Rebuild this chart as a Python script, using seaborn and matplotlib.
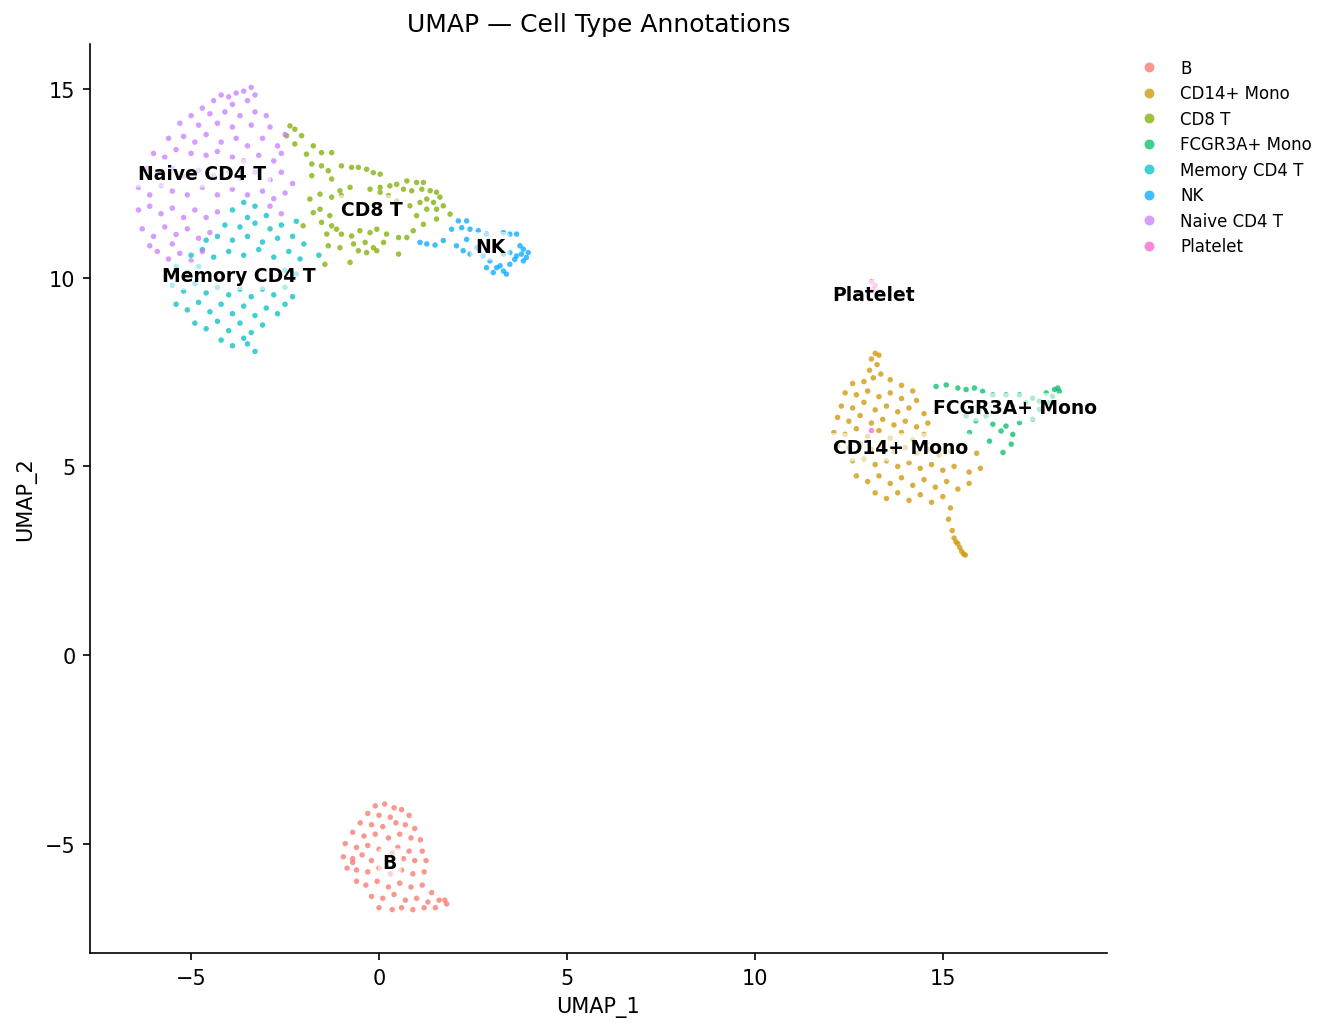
import numpy as np
import pandas as pd
import seaborn as sns
import matplotlib
matplotlib.use("Agg")
import matplotlib.pyplot as plt

# cell types (legend order) and colours
cell_types = ["B", "CD14+ Mono", "CD8 T", "FCGR3A+ Mono", "Memory CD4 T", "NK", "Naive CD4 T", "Platelet"]
colors = ["#F8766D", "#CD9600", "#7CAE00", "#00BE67", "#00BFC4", "#00A9FF", "#C77CFF", "#FF61CC"]

# UMAP coordinates, one list of (x, y) per cell type
naive_cd4 = [
    (-3.4, 15.05), (-3.6, 14.95), (-3.3, 14.85), (-3.8, 14.9), (-4.0, 14.8), (-4.2, 14.85), (-4.4, 14.7),
    (-3.5, 14.7), (-3.9, 14.6), (-4.7, 14.5), (-5.0, 14.3), (-4.5, 14.35), (-4.1, 14.4), (-3.7, 14.3),
    (-3.3, 14.4), (-3.0, 14.3), (-2.9, 14.0), (-5.3, 14.1), (-4.8, 14.05), (-4.3, 14.1), (-3.9, 14.0),
    (-3.4, 14.05), (-5.6, 13.7), (-5.2, 13.75), (-4.9, 13.6), (-4.6, 13.8), (-4.2, 13.6), (-3.8, 13.7),
    (-3.5, 13.5), (-3.1, 13.7), (-2.7, 13.5), (-2.5, 13.8), (-6.0, 13.3), (-5.7, 13.2), (-5.4, 13.4),
    (-5.0, 13.3), (-4.6, 13.25), (-4.3, 13.35), (-3.9, 13.2), (-3.6, 13.1), (-3.2, 13.25), (-2.8, 13.1),
    (-2.6, 13.3), (-6.2, 12.9), (-5.9, 12.8), (-5.5, 12.9), (-5.2, 12.7), (-4.8, 12.85), (-4.4, 12.7),
    (-4.0, 12.8), (-3.7, 12.65), (-3.3, 12.8), (-2.9, 12.6), (-2.6, 12.8), (-2.3, 12.5), (-6.4, 12.4),
    (-6.1, 12.2), (-5.8, 12.45), (-5.5, 12.3), (-5.1, 12.2), (-4.7, 12.4), (-4.3, 12.2), (-3.9, 12.35),
    (-3.5, 12.2), (-3.1, 12.3), (-2.8, 12.1), (-2.5, 12.25), (-6.4, 11.8), (-6.1, 11.9), (-5.8, 11.7),
    (-5.5, 11.85), (-5.2, 11.6), (-4.9, 11.8), (-4.6, 11.6), (-4.3, 11.75), (-2.6, 11.7), (-2.9, 11.9),
    (-6.3, 11.3), (-6.0, 11.1), (-5.7, 11.35), (-5.4, 11.15), (-5.1, 11.3), (-4.8, 11.05), (-4.5, 11.2),
    (-5.9, 10.7), (-5.6, 10.5), (-5.3, 10.65), (-5.0, 10.45), (-4.7, 10.7), (-5.5, 10.9), (-6.1, 10.85),
]
memory_cd4 = [
    (-3.6, 12.0), (-3.3, 11.9), (-3.9, 11.8), (-3.5, 11.6), (-3.0, 11.65), (-4.1, 11.4), (-3.7, 11.35),
    (-3.3, 11.45), (-2.9, 11.3), (-2.6, 11.4), (-4.6, 11.0), (-4.3, 11.1), (-3.9, 11.0), (-3.5, 11.1),
    (-3.1, 10.95), (-2.7, 11.05), (-2.3, 11.1), (-5.0, 10.6), (-4.7, 10.75), (-4.4, 10.55), (-4.0, 10.7),
    (-3.6, 10.6), (-3.2, 10.75), (-2.8, 10.55), (-2.4, 10.7), (-2.1, 10.5), (-5.4, 10.3), (-5.1, 10.15),
    (-4.8, 10.3), (-2.5, 10.2), (-2.2, 10.1), (-5.5, 9.8), (-5.2, 9.65), (-4.9, 9.85), (-4.6, 9.6),
    (-4.3, 9.75), (-4.0, 9.55), (-3.7, 9.7), (-3.4, 9.5), (-3.1, 9.7), (-2.8, 9.55), (-2.5, 9.75),
    (-2.3, 9.5), (-5.4, 9.3), (-5.1, 9.15), (-4.8, 9.35), (-4.5, 9.1), (-4.2, 9.3), (-3.9, 9.05),
    (-3.6, 9.25), (-3.3, 9.0), (-3.0, 9.2), (-2.7, 9.05), (-2.5, 9.3), (-4.9, 8.8), (-4.6, 8.65),
    (-4.3, 8.85), (-4.0, 8.6), (-3.7, 8.8), (-3.4, 8.55), (-3.1, 8.75), (-4.2, 8.35), (-3.9, 8.2),
    (-3.6, 8.4), (-3.3, 8.05), (-3.5, 8.25), (-2.2, 11.5), (-2.0, 10.9), (-1.6, 10.6),
]
cd8_t = [
    (-2.37, 14.03), (-2.24, 13.94), (-2.46, 13.77), (-2.06, 13.77), (-2.24, 13.55), (-1.75, 13.5),
    (-1.93, 13.28), (-1.53, 13.32), (-1.26, 13.32), (-1.79, 13.02), (-1.53, 12.97), (-1.35, 12.84),
    (-1.0, 12.97), (-0.73, 12.93), (-0.55, 12.93), (-0.33, 12.88), (-0.15, 12.79), (0.03, 12.75),
    (-1.79, 12.71), (-1.26, 12.62), (-1.04, 12.31), (-0.77, 12.4), (-0.24, 12.35), (0.03, 12.4),
    (0.29, 12.44), (0.47, 12.48), (0.74, 12.57), (1.0, 12.53), (1.18, 12.53), (0.65, 12.35),
    (0.87, 12.31), (1.14, 12.35), (1.36, 12.31), (1.53, 12.27), (1.27, 12.09), (1.45, 12.0),
    (1.62, 12.14), (1.71, 11.91), (1.09, 12.0), (1.27, 11.82), (1.53, 11.82), (1.89, 11.69),
    (1.53, 11.56), (1.0, 11.65), (0.82, 11.91), (0.47, 12.04), (0.25, 12.18), (0.03, 12.27),
    (-1.84, 12.09), (-1.57, 12.22), (-1.26, 12.14), (-1.0, 12.18), (-1.57, 11.82), (-1.31, 11.65),
    (-1.75, 11.73), (-2.02, 11.38), (-1.53, 11.47), (-1.26, 11.38), (-1.13, 11.29), (-1.39, 11.16),
    (-1.0, 11.16), (-0.73, 11.11), (-0.51, 11.25), (-0.24, 11.2), (-0.06, 11.29), (0.2, 11.16),
    (0.52, 11.07), (0.74, 11.07), (-0.68, 10.9), (-0.37, 10.94), (-0.15, 10.8), (0.12, 10.94),
    (-1.35, 10.85), (-1.04, 10.8), (-0.55, 10.72), (-0.33, 10.67), (-0.06, 10.72), (0.52, 10.63),
    (-0.77, 10.41), (-1.44, 10.36), (1.18, 11.42), (0.91, 11.25),
]
nk = [
    (1.09, 10.94), (1.27, 10.9), (1.49, 10.87), (1.71, 10.99), (2.06, 10.85), (1.93, 11.29),
    (2.11, 11.51), (2.33, 11.51), (2.2, 11.33), (2.42, 11.29), (2.64, 11.25), (2.86, 11.16),
    (3.31, 11.2), (3.48, 11.16), (3.66, 11.16), (2.33, 11.02), (2.6, 10.8), (2.42, 10.63),
    (2.24, 10.72), (2.77, 10.58), (2.95, 10.45), (3.13, 10.27), (3.04, 10.14), (3.31, 10.18),
    (3.48, 10.36), (3.61, 10.49), (3.79, 10.63), (3.92, 10.54), (3.97, 10.67), (3.75, 10.85),
    (3.84, 10.76), (3.31, 10.63), (3.48, 10.67), (3.66, 10.58), (3.84, 10.45), (3.39, 10.1),
    (3.22, 10.32), (2.86, 10.27),
]
cd14_mono = [
    (13.2, 8.0), (13.3, 7.95), (13.1, 7.85), (13.25, 7.7), (13.05, 7.55), (13.35, 7.45), (13.15, 7.35),
    (12.6, 7.2), (12.9, 7.25), (13.6, 7.3), (13.9, 7.15), (14.2, 7.0), (12.4, 6.95), (12.7, 6.9),
    (13.0, 7.0), (13.3, 6.85), (13.6, 6.95), (13.9, 6.8), (14.3, 6.75), (12.3, 6.6), (12.6, 6.55),
    (12.9, 6.7), (13.2, 6.5), (13.5, 6.6), (13.8, 6.45), (14.1, 6.55), (14.5, 6.4), (12.2, 6.3),
    (12.5, 6.2), (12.8, 6.35), (13.1, 6.15), (13.4, 6.25), (13.7, 6.1), (14.0, 6.2), (14.3, 6.05),
    (14.6, 6.15), (12.1, 5.9), (12.4, 5.85), (12.7, 6.0), (13.0, 5.8), (13.3, 5.95), (13.6, 5.75),
    (13.9, 5.9), (14.2, 5.7), (14.5, 5.85), (12.2, 5.55), (12.5, 5.5), (12.8, 5.6), (13.1, 5.45),
    (13.4, 5.55), (13.7, 5.4), (14.0, 5.5), (14.3, 5.35), (14.6, 5.45), (14.9, 5.3), (15.2, 5.4),
    (15.6, 5.5), (15.9, 5.35), (12.6, 5.15), (12.9, 5.2), (13.2, 5.05), (13.5, 5.15), (13.8, 5.0),
    (14.1, 5.1), (14.4, 4.95), (14.7, 5.05), (15.0, 4.9), (15.3, 5.0), (15.7, 4.85), (16.0, 4.95),
    (12.7, 4.75), (13.0, 4.6), (13.3, 4.75), (13.6, 4.55), (13.9, 4.7), (14.2, 4.5), (14.5, 4.65),
    (14.8, 4.45), (15.1, 4.6), (15.4, 4.4), (15.7, 4.55), (13.2, 4.3), (13.5, 4.15), (13.8, 4.3),
    (14.1, 4.1), (14.4, 4.25), (14.7, 4.05), (15.0, 4.2), (15.2, 3.9), (15.15, 3.6), (15.25, 3.3),
    (15.3, 3.1), (15.4, 2.95), (15.45, 2.85), (15.5, 2.75), (15.55, 2.68), (15.35, 3.0), (15.6, 2.65),
]
fcgr3a_mono = [
    (14.82, 7.12), (15.09, 7.16), (15.4, 7.08), (15.62, 7.04), (15.84, 7.08), (16.06, 6.99),
    (16.33, 6.9), (16.68, 6.9), (17.04, 6.9), (17.39, 6.81), (17.75, 6.95), (17.97, 7.04),
    (18.06, 7.08), (18.1, 6.99), (17.92, 6.86), (17.57, 6.73), (17.21, 6.69), (16.86, 6.6),
    (16.51, 6.51), (16.15, 6.34), (15.88, 6.21), (16.33, 6.12), (16.68, 6.07), (17.04, 6.16),
    (17.39, 6.25), (16.55, 5.94), (16.86, 5.85), (16.24, 5.67), (16.82, 5.59), (16.6, 5.37),
    (15.71, 5.9), (15.62, 6.34), (17.83, 6.69), (17.57, 6.51),
]
b_cells = [
    (-0.1, -4.0), (0.15, -3.95), (0.4, -4.05), (0.6, -4.1), (-0.3, -4.2), (0.0, -4.25), (0.3, -4.3),
    (0.8, -4.25), (-0.5, -4.45), (-0.2, -4.5), (0.1, -4.55), (0.45, -4.45), (0.7, -4.5), (0.95, -4.6),
    (-0.7, -4.7), (-0.4, -4.8), (-0.1, -4.75), (0.25, -4.85), (0.55, -4.75), (0.85, -4.85), (1.1, -4.9),
    (-0.9, -5.0), (-0.6, -5.1), (-0.3, -5.05), (0.0, -5.15), (0.5, -5.1), (0.8, -5.2), (1.15, -5.2),
    (-0.95, -5.35), (-0.7, -5.4), (-0.45, -5.3), (-0.2, -5.45), (0.65, -5.4), (0.95, -5.45), (1.25, -5.45),
    (-0.85, -5.65), (-0.6, -5.7), (-0.3, -5.75), (0.0, -5.65), (0.3, -5.8), (0.6, -5.7), (0.9, -5.8),
    (1.2, -5.75), (-0.6, -6.0), (-0.35, -6.1), (-0.05, -6.0), (0.25, -6.15), (0.55, -6.05), (0.85, -6.15),
    (1.15, -6.1), (1.4, -6.3), (-0.2, -6.4), (0.1, -6.45), (0.4, -6.35), (0.7, -6.5), (1.0, -6.45),
    (1.3, -6.55), (1.6, -6.5), (1.8, -6.6), (0.0, -6.7), (0.35, -6.75), (0.6, -6.7), (0.9, -6.75),
    (1.2, -6.7), (1.5, -6.7), (1.75, -6.5), (-0.7, -5.5), (0.35, -5.25),
]
platelet = [(13.1, 9.9), (13.2, 9.8), (13.15, 9.7), (13.1, 5.95)]

# cluster label positions
label_x = [0.29, 13.87, -0.19, 16.93, -3.72, 2.95, -4.70, 13.15]
label_y = [-5.49, 5.51, 11.82, 6.57, 10.05, 10.84, 12.77, 9.57]

clusters = [b_cells, cd14_mono, cd8_t, fcgr3a_mono, memory_cd4, nk, naive_cd4, platelet]
rows = []
for name, pts in zip(cell_types, clusters):
    for x, y in pts:
        rows.append((x, y, name))
df = pd.DataFrame(rows, columns=["UMAP_1", "UMAP_2", "cell_type"])

fig = plt.figure(figsize=(8.9, 6.893), dpi=150)
ax = fig.add_axes([0.0674, 0.0774, 0.7616, 0.8791])

sns.scatterplot(data=df, x="UMAP_1", y="UMAP_2", hue="cell_type", hue_order=cell_types,
                palette=dict(zip(cell_types, colors)), s=7, alpha=0.75, linewidth=0, ax=ax)

for name, lx, ly in zip(cell_types, label_x, label_y):
    ax.text(lx, ly, name, ha="center", va="center", fontsize=9, fontweight="bold", color="black",
            bbox=dict(boxstyle="round,pad=0.25", fc="white", ec="none", alpha=0.6))

ax.set_xlim(-7.69, 19.36)
ax.set_ylim(-7.9, 16.2)
ax.set_xticks([-5, 0, 5, 10, 15])
ax.set_yticks([-5, 0, 5, 10, 15])
ax.tick_params(labelsize=10)
ax.set_xlabel("UMAP_1", fontsize=10)
ax.set_ylabel("UMAP_2", fontsize=10)
ax.set_title("UMAP — Cell Type Annotations", fontsize=12)
sns.despine(ax=ax)

ax.legend(loc="upper left", bbox_to_anchor=(1.01, 1.0), frameon=False, fontsize=8,
          markerscale=1.8, handletextpad=0.9, labelspacing=0.45, title=None)

fig.savefig("out.png", dpi=150)
